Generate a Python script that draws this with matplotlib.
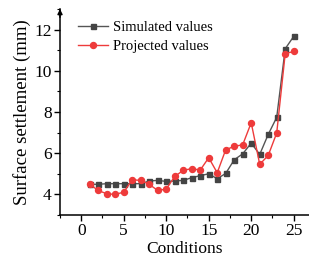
import matplotlib
matplotlib.use("Agg")
import matplotlib.pyplot as plt
from matplotlib.ticker import MultipleLocator

conditions = list(range(1, 26))
simulated = [4.49, 4.49, 4.52, 4.52, 4.52, 4.52, 4.52, 4.65, 4.68, 4.63,
             4.65, 4.68, 4.81, 4.91, 5.00, 4.76, 5.02, 5.68, 5.97, 6.49,
             5.94, 6.91, 7.74, 11.07, 11.67]
projected = [4.49, 4.19, 4.03, 4.00, 4.11, 4.71, 4.68, 4.49, 4.19, 4.26,
             4.87, 5.17, 5.25, 5.18, 5.78, 5.05, 6.17, 6.33, 6.41, 7.48,
             5.46, 5.89, 6.98, 10.83, 10.94]

plt.rcParams['font.family'] = ['Liberation Serif', 'DejaVu Serif']
plt.rcParams['mathtext.fontset'] = 'stix'

fig = plt.figure(figsize=(3.09, 2.61), dpi=100)
ax = fig.add_axes([60/309, 46/261, 1 - 60/309, (215 - 9)/261])

ax.plot(conditions, simulated, color='#555555', lw=1.0, marker='s', ms=3.6,
        mfc='#444444', mec='#444444', label='Simulated values')
ax.plot(conditions, projected, color='#ee3b3b', lw=1.0, marker='o', ms=4.3,
        mfc='#ee3b3b', mec='#ee3b3b', label='Projected values')

ax.set_xlim(-2.5, 26.8)
ax.set_ylim(3, 13)
ax.xaxis.set_major_locator(MultipleLocator(5))
ax.xaxis.set_minor_locator(MultipleLocator(2.5))
ax.yaxis.set_major_locator(MultipleLocator(2))
ax.yaxis.set_minor_locator(MultipleLocator(1))
ax.set_yticks([4, 6, 8, 10, 12])

for s in ['top', 'right']:
    ax.spines[s].set_visible(False)
for s in ['left', 'bottom']:
    ax.spines[s].set_linewidth(1.1)
ax.tick_params(which='major', direction='out', length=4, width=1, labelsize=12.5, pad=2)
ax.tick_params(which='minor', direction='out', length=2.5, width=0.8)

# arrow at top of y axis
ax.annotate('', xy=(0, 1.0), xycoords='axes fraction', xytext=(0, 0.96),
            arrowprops=dict(arrowstyle='-|>', color='black', lw=1.1,
                            mutation_scale=7, shrinkA=0, shrinkB=0))

ax.set_xlabel('Conditions', fontsize=12.5, labelpad=1)
ax.set_ylabel('Surface settlement (mm)', fontsize=13.5, labelpad=2)

leg = ax.legend(loc='upper left', fontsize=10.5, frameon=False,
                bbox_to_anchor=(0.03, 0.99), handlelength=2.1, handletextpad=0.35,
                labelspacing=0.35, borderaxespad=0.3)

fig.savefig('out.png', dpi=100)
